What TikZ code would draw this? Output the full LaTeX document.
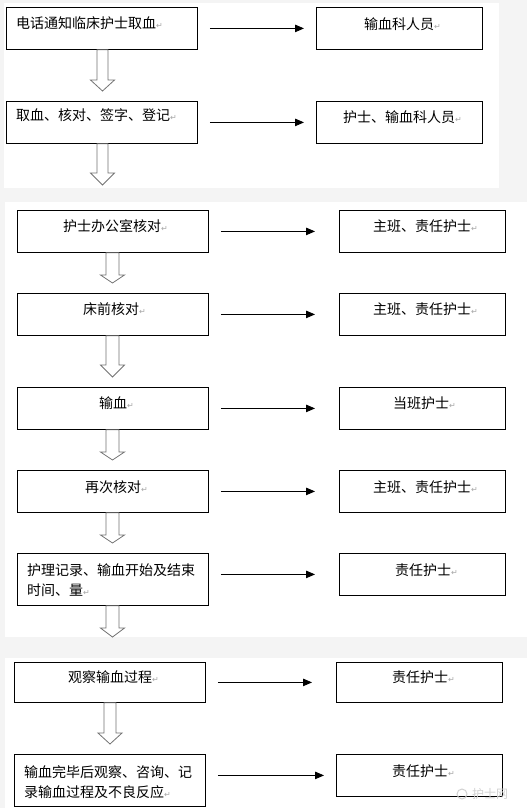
\documentclass[tikz,border=0pt]{standalone}
\usepackage{fontspec}
\setmainfont{Noto Sans CJK SC}
\newfontfamily\symf{DejaVu Sans}
\usetikzlibrary{arrows.meta}
\newcommand\pmark{{\symf\fontsize{8}{8}\selectfont\color{gray!70}↵}}
\newcommand\hollowarrow[4]{% #1 start coord, #2 tip coord, #3 head length, #4 half shaft
  \draw[hollow] ([xshift=-#4]#1) -- ([xshift=-#4,yshift=#3]#2) -- ([xshift=-12pt,yshift=#3]#2) -- (#2)
    -- ([xshift=12pt,yshift=#3]#2) -- ([xshift=#4,yshift=#3]#2) -- ([xshift=#4]#1) -- cycle;}
\begin{document}
\begin{tikzpicture}[x=1pt,y=-1pt,
  panel/.style={fill=white,draw=none},
  box/.style={draw=black,line width=0.8pt,fill=white,minimum width=#1,inner sep=0pt,anchor=north west},
  box/.default=191pt,
  rbox/.style={draw=black,line width=0.8pt,fill=white,minimum width=166pt,inner sep=0pt,anchor=north west},
  txt/.style={anchor=west,inner sep=0pt,font=\fontsize{14}{20}\selectfont,align=left},
  conn/.style={line width=0.8pt,-{Triangle[length=9pt,width=7.5pt]},shorten <=12pt,shorten >=#1},
  conn/.default=12pt,
  hollow/.style={draw=gray!90!black,line width=0.8pt,fill=white}]
\useasboundingbox (0,0) rectangle (527,808);
\fill[gray!9] (0,0) rectangle (527,808);
% panels
\fill[panel] (4,3) rectangle (499,188);
\fill[panel] (5,202) rectangle (527,637);
\fill[panel] (5,658) rectangle (527,808);

% ---- panel 1
\node[box,minimum height=42pt] (b1) at (6,7) {};
\node[rbox,minimum height=42pt] (r1) at (316,7) {};
\node[box,minimum height=42pt] (b2) at (6,101) {};
\node[rbox,minimum height=42pt] (r2) at (316,101) {};
\node[txt] (tb1) at (16,23) {电话通知临床护士取血\pmark};
\node[txt] (tr1) at (364,24) {输血科人员\pmark};
\node[txt] (tb2) at (16,115) {取血、核对、签字、登记\pmark};
\node[txt] (tr2) at (343,117) {护士、输血科人员\pmark};
\draw[conn] (b1) -- (r1);
\draw[conn] (b2) -- (r2);
\coordinate (t1) at (102.5,91);  \coordinate (s1) at (b1.south -| t1);
\coordinate (t2) at (102.5,185); \coordinate (s2) at (b2.south -| t2);
\hollowarrow{s1}{t1}{11pt}{5.5pt}
\hollowarrow{s2}{t2}{12pt}{5.5pt}

% ---- panel 2
\node[box,minimum height=42pt] (bA) at (17,210) {};
\node[rbox,minimum height=42pt] (rA) at (339,210) {};
\node[box,minimum height=42pt] (bB) at (17,293) {};
\node[rbox,minimum height=42pt] (rB) at (339,293) {};
\node[box,minimum height=42pt] (bC) at (17,387) {};
\node[rbox,minimum height=42pt] (rC) at (339,387) {};
\node[box,minimum height=42pt] (bD) at (17,470) {};
\node[rbox,minimum height=42pt] (rD) at (339,470) {};
\node[box,minimum height=52pt] (bE) at (17,553) {};
\node[rbox,minimum height=42pt] (rE) at (339,553) {};
\node[txt] (tA) at (63,226) {护士办公室核对\pmark};
\node[txt] (trA) at (373,226) {主班、责任护士\pmark};
\node[txt] (tB) at (83,309) {床前核对\pmark};
\node[txt] (trB) at (373,309) {主班、责任护士\pmark};
\node[txt] (tC) at (99,403) {输血\pmark};
\node[txt] (trC) at (393,403) {当班护士\pmark};
\node[txt] (tD) at (85,487) {再次核对\pmark};
\node[txt] (trD) at (373,487) {主班、责任护士\pmark};
\node[txt] (tE) at (27,580) {护理记录、输血开始及结束\\时间、量\pmark};
\node[txt] (trE) at (395,570) {责任护士\pmark};
\draw[conn=24pt] (bA) -- (rA);
\draw[conn=24pt] (bB.east |- rB.west) -- (rB.west);
\draw[conn=24pt] (bC.east |- rC.west) -- (rC.west);
\draw[conn=24pt] (bD) -- (rD);
\draw[conn=24pt] (bE.east |- rE.west) -- (rE.west);
\coordinate (tA2) at (112.5,283); \coordinate (sA) at (bA.south -| tA2);
\coordinate (tB2) at (112.5,377); \coordinate (sB) at (bB.south -| tB2);
\coordinate (tC2) at (112.5,460); \coordinate (sC) at (bC.south -| tC2);
\coordinate (tD2) at (112.5,543); \coordinate (sD) at (bD.south -| tD2);
\coordinate (tE2) at (112.5,637); \coordinate (sE) at (bE.south -| tE2);
\hollowarrow{sA}{tA2}{8pt}{6.5pt}
\hollowarrow{sB}{tB2}{12pt}{6.5pt}
\hollowarrow{sC}{tC2}{8pt}{6.5pt}
\hollowarrow{sD}{tD2}{8pt}{6.5pt}
\hollowarrow{sE}{tE2}{9pt}{6.5pt}

% ---- panel 3
\node[box,minimum height=40pt] (bF) at (14,662) {};
\node[rbox,minimum height=40pt] (rF) at (336,662) {};
\node[box,minimum height=52pt] (bG) at (14,754) {};
\node[rbox,minimum height=42pt] (rG) at (336,754) {};
\node[txt] (tF) at (68,677) {观察输血过程\pmark};
\node[txt] (trF) at (392,677) {责任护士\pmark};
\node[txt] (tG) at (24,782) {输血完毕后观察、咨询、记\\录输血过程及不良反应\pmark};
\node[txt] (trG) at (392,771) {责任护士\pmark};
\draw[conn=24pt] (bF) -- (rF);
\draw[conn] (bG.east |- rG.west) -- (rG.west);
\coordinate (tF2) at (110,744); \coordinate (sF) at (bF.south -| tF2);
\hollowarrow{sF}{tF2}{11pt}{6pt}

% watermark
\node[anchor=west,inner sep=0pt,text=gray!35,font=\fontsize{12}{14}\selectfont] (wm) at (472,794) {护士网};
\draw[gray!35,line width=1pt] (462,794) circle (5pt);
\end{tikzpicture}
\end{document}
